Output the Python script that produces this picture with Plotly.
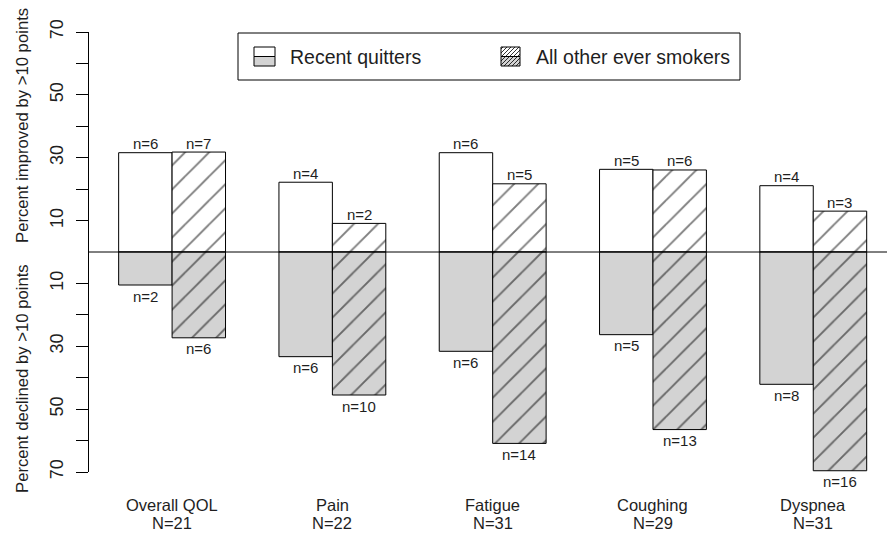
import plotly.graph_objects as go

# ---- data -------------------------------------------------------------
categories = ["Overall QOL", "Pain", "Fatigue", "Coughing", "Dyspnea"]
group_N = [21, 22, 31, 29, 31]

# percent improved by >10 points
improved_recent = [31.6, 22.2, 31.6, 26.3, 21.1]
improved_other = [31.8, 9.1, 21.7, 26.1, 13.0]
# percent declined by >10 points
declined_recent = [10.5, 33.3, 31.6, 26.3, 42.1]
declined_other = [27.3, 45.5, 60.9, 56.5, 69.6]

# counts behind each bar
improved_recent_n = [6, 4, 6, 5, 4]
improved_other_n = [7, 2, 5, 6, 3]
declined_recent_n = [2, 6, 6, 5, 8]
declined_other_n = [6, 10, 14, 13, 16]

y_tick_values = [-70, -60, -50, -40, -30, -20, -10, 10, 20, 30, 40, 50, 60, 70]
y_tick_labels = ["70", "", "50", "", "30", "", "10", "10", "", "30", "", "50", "", "70"]

# ---- layout constants ---------------------------------------------------
W, H = 887, 538
L, R, T, B = 89, 0, 32, 66
FONT = "Liberation Sans, Arial, Helvetica, sans-serif"
TXT = "#1e1e1e"
GRAY = "#d3d3d3"


def px(x):
    return (x - L) / (W - L - R)


def py(y):
    return (H - B - y) / (H - T - B)


# bar positions: two adjacent bars per group, one bar-width gap between groups
x_recent = [1.5 + 3 * g for g in range(len(categories))]
x_other = [2.5 + 3 * g for g in range(len(categories))]
x_center = [2.0 + 3 * g for g in range(len(categories))]

fig = go.Figure()

line = dict(color="black", width=1)
hatch_white = dict(shape="/", size=17, solidity=0.11, fgcolor="black", bgcolor="white")
hatch_gray = dict(shape="/", size=17, solidity=0.11, fgcolor="black", bgcolor=GRAY)

fig.add_trace(go.Bar(x=x_recent, y=improved_recent, width=1,
                     marker=dict(color="white", line=line), name="Recent quitters improved"))
fig.add_trace(go.Bar(x=x_recent, y=[-v for v in declined_recent], width=1,
                     marker=dict(color=GRAY, line=line), name="Recent quitters declined"))
fig.add_trace(go.Bar(x=x_other, y=improved_other, width=1,
                     marker=dict(color="white", line=line, pattern=hatch_white),
                     name="All other ever smokers improved"))
fig.add_trace(go.Bar(x=x_other, y=[-v for v in declined_other], width=1,
                     marker=dict(color=GRAY, line=line, pattern=hatch_gray),
                     name="All other ever smokers declined"))

annotations = []


def count_label(x, y, n, up):
    annotations.append(dict(x=x, y=y, xref="x", yref="y", text=f"n={n}",
                            showarrow=False, yanchor="middle",
                            yshift=9 if up else -11,
                            font=dict(size=15, color=TXT, family=FONT)))


for i in range(len(categories)):
    count_label(x_recent[i], improved_recent[i], improved_recent_n[i], True)
    count_label(x_other[i], improved_other[i], improved_other_n[i], True)
    count_label(x_recent[i], -declined_recent[i], declined_recent_n[i], False)
    count_label(x_other[i], -declined_other[i], declined_other_n[i], False)
    annotations.append(dict(x=x_center[i], y=py(505), xref="x", yref="paper",
                            text=categories[i], showarrow=False, yanchor="middle",
                            font=dict(size=16.5, color=TXT, family=FONT)))
    annotations.append(dict(x=x_center[i], y=py(523), xref="x", yref="paper",
                            text=f"N={group_N[i]}", showarrow=False, yanchor="middle",
                            font=dict(size=16.5, color=TXT, family=FONT)))

# y-axis titles, one for each half
annotations.append(dict(x=px(22), y=py(126), xref="paper", yref="paper",
                        xanchor="center", yanchor="middle",
                        text="Percent improved by >10 points", textangle=-90,
                        showarrow=False, font=dict(size=16.7, color=TXT, family=FONT)))
annotations.append(dict(x=px(22), y=py(379), xref="paper", yref="paper",
                        xanchor="center", yanchor="middle",
                        text="Percent declined by >10 points", textangle=-90,
                        showarrow=False, font=dict(size=16.7, color=TXT, family=FONT)))

# legend text
annotations.append(dict(x=px(288), y=py(57), xref="paper", yref="paper",
                        text="Recent quitters", xanchor="left", yanchor="middle",
                        showarrow=False, font=dict(size=19.5, color=TXT, family=FONT)))
annotations.append(dict(x=px(534), y=py(57), xref="paper", yref="paper",
                        text="All other ever smokers", xanchor="left", yanchor="middle",
                        showarrow=False, font=dict(size=19.5, color=TXT, family=FONT)))

shapes = []
# zero reference line across the plot
shapes.append(dict(type="line", xref="paper", yref="y", x0=0, x1=1, y0=0, y1=0,
                   line=dict(color="black", width=1)))


def prect(x0, y0, x1, y1, fill, lw=1):
    shapes.append(dict(type="rect", xref="paper", yref="paper",
                       x0=px(x0), x1=px(x1), y0=py(y1), y1=py(y0),
                       fillcolor=fill, line=dict(color="black", width=lw)))


# legend frame
prect(238, 33, 740, 80, "white")
# legend key: recent quitters (white over gray)
prect(254, 47, 275, 56.5, "white")
prect(254, 56.5, 275, 66, GRAY)
# legend key: other smokers (hatched white over hatched gray)
kx0, ky0, ks = 501, 47, 19
prect(kx0, ky0, kx0 + ks, ky0 + ks / 2, "white")
prect(kx0, ky0 + ks / 2, kx0 + ks, ky0 + ks, GRAY)
d = 4.0
c = kx0 + ky0 + d / 2
while c < kx0 + ky0 + 2 * ks:
    xa = max(kx0, c - (ky0 + ks))
    xb = min(kx0 + ks, c - ky0)
    shapes.append(dict(type="line", xref="paper", yref="paper",
                       x0=px(xa), y0=py(c - xa), x1=px(xb), y1=py(c - xb),
                       line=dict(color="black", width=0.8)))
    c += d

fig.update_layout(
    width=W, height=H,
    margin=dict(l=L, r=R, t=T, b=B, pad=0),
    paper_bgcolor="white", plot_bgcolor="white",
    barmode="overlay", showlegend=False,
    font=dict(family=FONT, color=TXT),
    xaxis=dict(range=[0.445, 15.38], visible=False, fixedrange=True),
    yaxis=dict(range=[-70, 70], tickvals=y_tick_values, ticktext=y_tick_labels,
               tickangle=-90, ticks="outside", ticklen=12, tickwidth=1,
               tickcolor="black", showline=True, linecolor="black", linewidth=1,
               showgrid=False, zeroline=False, ticklabelstandoff=6,
               tickfont=dict(size=18, color=TXT, family=FONT)),
    annotations=annotations,
    shapes=shapes,
)

fig.write_html("out.html")
